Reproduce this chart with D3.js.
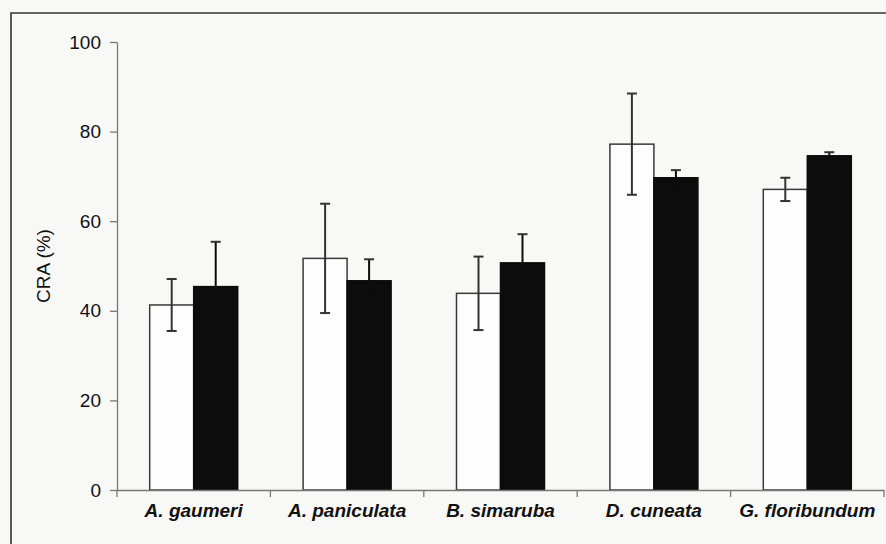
<!DOCTYPE html>
<html>
<head>
<meta charset="utf-8">
<script src="https://cdn.jsdelivr.net/npm/d3@7"></script>
<style>
  body { margin: 0; background: #f8f8f7; }
  svg { display: block; font-family: "Liberation Sans", Arial, sans-serif; }
</style>
</head>
<body>
<svg id="chart" width="886" height="544"></svg>
<script>
// species on the x axis
const categories = ["A. gaumeri", "A. paniculata", "B. simaruba", "D. cuneata", "G. floribundum"];
const series = ["open", "filled"];

// CRA (%) means and error bar half-lengths
const openMean = [41.3, 51.7, 43.9, 77.2, 67.1];
const openErr = [5.8, 12.2, 8.2, 11.3, 2.6];
const filledMean = [45.4, 46.7, 50.7, 69.7, 74.6];
const filledErr = [10.0, 4.8, 6.4, 1.7, 0.8];

const yTicks = [0, 20, 40, 60, 80, 100];

const svg = d3.select("#chart");

// outer frame (runs off the right and bottom of the scan)
svg.append("path")
    .attr("d", "M11,544 V13 H886")
    .attr("fill", "none")
    .attr("stroke", "#333")
    .attr("stroke-width", 1.6);

const plot = { left: 117, right: 884, top: 42, bottom: 490 };

const x = d3.scaleBand()
    .domain(categories)
    .range([plot.left, plot.right]);

const barW = 44;
const x1 = d3.scaleBand()
    .domain(series)
    .range([x.bandwidth() / 2 - barW, x.bandwidth() / 2 + barW]);

const y = d3.scaleLinear()
    .domain([0, 100])
    .range([plot.bottom, plot.top]);

const rows = categories.map((c, i) => ({
    cat: c,
    vals: [
        { key: "open", mean: openMean[i], err: openErr[i] },
        { key: "filled", mean: filledMean[i], err: filledErr[i] }
    ]
}));

// y axis
const yAxis = svg.append("g")
    .attr("transform", `translate(${plot.left},0)`)
    .call(d3.axisLeft(y).tickValues(yTicks).tickSize(7).tickPadding(9).tickSizeOuter(0));
yAxis.select(".domain").attr("stroke", "#777").attr("stroke-width", 1.3);
yAxis.selectAll(".tick line").attr("stroke", "#777").attr("stroke-width", 1.3);
yAxis.selectAll(".tick text")
    .attr("fill", "#111")
    .style("font-size", "19px");

svg.append("text")
    .attr("transform", `translate(50,${(plot.top + plot.bottom) / 2}) rotate(-90)`)
    .attr("text-anchor", "middle")
    .attr("fill", "#111")
    .style("font-size", "19px")
    .text("CRA (%)");

// bars
const groups = svg.selectAll(".grp")
    .data(rows)
    .enter().append("g")
    .attr("class", "grp")
    .attr("transform", d => `translate(${x(d.cat)},0)`);

groups.selectAll("rect")
    .data(d => d.vals)
    .enter().append("rect")
    .attr("x", d => x1(d.key))
    .attr("y", d => y(d.mean))
    .attr("width", x1.bandwidth())
    .attr("height", d => y(0) - y(d.mean))
    .attr("fill", d => d.key === "open" ? "#fdfdfd" : "#0c0c0c")
    .attr("stroke", d => d.key === "open" ? "#3a3a3a" : "#0c0c0c")
    .attr("stroke-width", 1.5);

// error bars
const err = groups.selectAll(".err")
    .data(d => d.vals)
    .enter().append("g")
    .attr("class", "err")
    .attr("stroke", d => d.key === "open" ? "#333" : "#0c0c0c")
    .attr("stroke-width", 2);

const cx = d => x1(d.key) + x1.bandwidth() / 2;
err.append("line")
    .attr("x1", cx).attr("x2", cx)
    .attr("y1", d => y(d.mean - d.err))
    .attr("y2", d => y(d.mean + d.err));
err.append("line")
    .attr("x1", d => cx(d) - 5).attr("x2", d => cx(d) + 5)
    .attr("y1", d => y(d.mean + d.err)).attr("y2", d => y(d.mean + d.err))
    .attr("stroke", "#333");
err.append("line")
    .attr("x1", d => cx(d) - 5).attr("x2", d => cx(d) + 5)
    .attr("y1", d => y(d.mean - d.err)).attr("y2", d => y(d.mean - d.err));

// x axis with ticks at the category boundaries
const xAxis = svg.append("g")
    .attr("transform", `translate(0,${plot.bottom})`)
    .call(d3.axisBottom(x).tickSize(0).tickPadding(14).tickSizeOuter(0));
xAxis.select(".domain").attr("stroke", "#777").attr("stroke-width", 1.3);
xAxis.selectAll(".tick text")
    .attr("fill", "#111")
    .style("font-size", "19px")
    .style("font-weight", "bold")
    .style("font-style", "italic");

const bounds = categories.map(c => x(c)).concat([x.range()[1]]);
xAxis.selectAll(".bound")
    .data(bounds)
    .enter().append("line")
    .attr("class", "bound")
    .attr("x1", d => d).attr("x2", d => d)
    .attr("y1", 0).attr("y2", 7)
    .attr("stroke", "#777")
    .attr("stroke-width", 1.3);
</script>
</body>
</html>
